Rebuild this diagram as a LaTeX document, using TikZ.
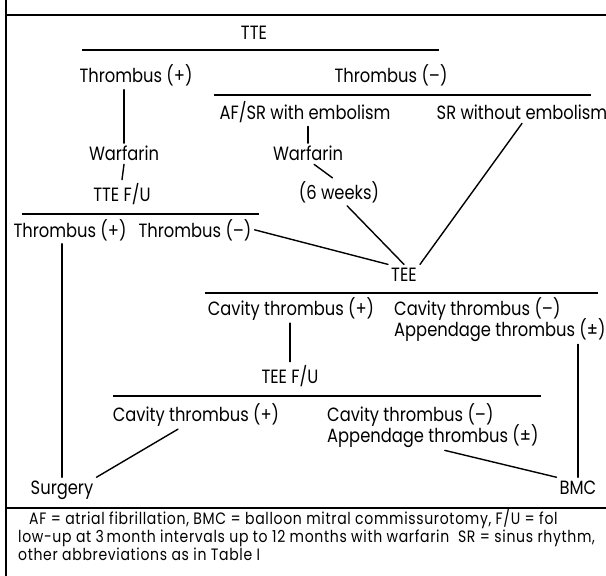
\documentclass[tikz,border=0pt]{standalone}
\usepackage{fontspec}
\setmainfont{Poppins}[FakeStretch=0.85]
\usetikzlibrary{positioning}

\begin{document}
\begin{tikzpicture}[x=1bp, y=-1bp,
		lbl/.style = {anchor=base, inner sep=3bp, font=\fontsize{19.2bp}{22bp}\selectfont},
		lblw/.style = {lbl, anchor=base west, inner sep=0bp},
		note/.style = {anchor=base west, inner sep=0bp, font=\fontsize{16.5bp}{18bp}\selectfont\addfontfeatures{LetterSpace=4}},
		rule/.style = {line width=1.4bp},
		link/.style = {line width=1.4bp, line cap=round}]
	\useasboundingbox (0,0) rectangle (606,576);
	\draw[rule] (6,0) -- (6,576);
	\draw[rule] (6,15) -- (606,15);
	\draw[rule] (6,508) -- (606,508);

	\node[lbl] (tte) at (254,40) {TTE};
	\draw[rule] (82,50) -- (439,50);
	\node[lbl] (thp1) at (136,83) {Thrombus (+)};
	\node[lbl] (thm1) at (391,83) {Thrombus (--)};
	\draw[rule] (214,95) -- (591,95);
	\node[lbl] (afsr) at (305,120) {AF/SR with embolism};
	\node[lbl] (sr) at (522,120) {SR without embolism};
	\node[lbl] (warf1) at (124,161) {Warfarin};
	\node[lbl] (ttefu1) at (122,201) {TTE F/U};
	\node[lbl] (warf2) at (308,161) {Warfarin};
	\node[lbl] (sixwk) at (339,199) {(6 weeks)};
	\draw[rule] (22,214) -- (259,214);
	\node[lbl] (thp2) at (70,237) {Thrombus (+)};
	\node[lbl] (thm2) at (195,237) {Thrombus (--)};
	\node[lbl] (tee) at (404,281) {TEE};
	\draw[rule] (205,293) -- (598,293);
	\node[lbl] (cav1) at (291,315) {Cavity thrombus (+)};
	\node[lblw] (cavn1) at (394,315) {Cavity thrombus (--)};
	\node[lblw] (app1) at (394,336) {Appendage thrombus (±)};
	\node[lbl] (ttefu2) at (290,383) {TEE F/U};
	\draw[rule] (113,396) -- (541,396);
	\node[lbl] (cav2) at (196,421) {Cavity thrombus (+)};
	\node[lblw] (cavn2) at (327,421) {Cavity thrombus (--)};
	\node[lblw] (app2) at (327,442) {Appendage thrombus (±)};
	\node[lbl] (surg) at (62,494) {Surgery};
	\node[lbl] (bmc) at (578,494) {BMC};

	\draw[link] (warf1.north) -- (warf1.north |- thp1.south);
	\draw[link] (warf1.south) -- (ttefu1.north);
	\draw[link] (warf2.north) -- (warf2.north |- afsr.south);
	\draw[link] (warf2.-60) -- (sixwk.115);
	\draw[link] (sixwk.-60) -- (tee.north);
	\draw[link] (sr.south) -- (tee.north east);
	\draw[link] (thm2.east) -- (tee.north west);
	\draw[link] (surg.north) -- (surg.north |- thp2.south);
	\draw[link] (ttefu2.north) -- (ttefu2.north |- cav1.south);
	\draw[link] ([yshift=-3bp]app1.south -| bmc.north) -- (bmc.north);
	\draw[link] ([xshift=-18bp]cav2.south) -- (surg.north east);
	\draw[link] ([xshift=12bp,yshift=-3bp]app2.south) -- (bmc.north west);

	\node[note] (foot1) at (29,524) {AF = atrial fibrillation, BMC = balloon mitral commissurotomy, F/U = fol};
	\node[note] (foot2) at (18,542) {low-up at 3\,month intervals up to 12 months with warfarin~~SR = sinus rhythm,};
	\node[note] (foot3) at (18,560) {other abbreviations as in Table I};
\end{tikzpicture}
\end{document}
